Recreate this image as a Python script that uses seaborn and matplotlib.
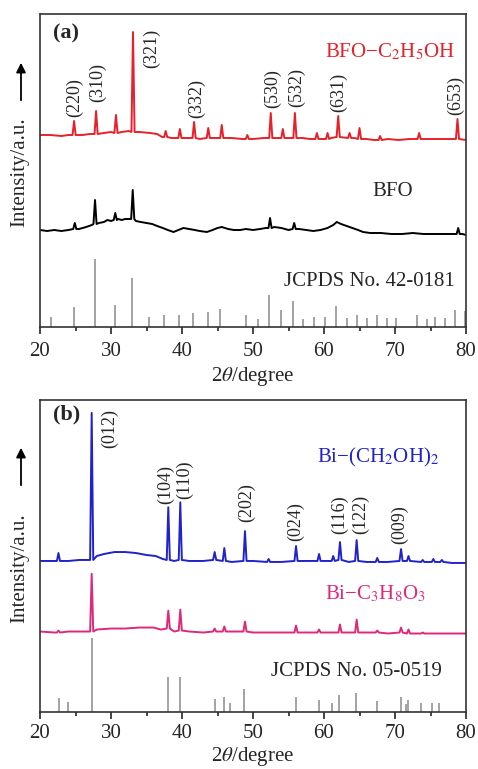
import numpy as np
import pandas as pd
import seaborn as sns
import matplotlib
matplotlib.use("Agg")
from matplotlib import pyplot as plt

# ---------------- data ----------------
# panel (a) ----------------------------------------------------
# red trace BFO-C2H5OH : baseline points and peaks (pos, top, local base)
red_base_x = [20, 21.5, 23, 24, 26, 27, 29, 30, 31.5, 32.5, 34, 35.5, 36.5, 37.2, 38.5, 40.5, 42.5,
              44.5, 47, 48.5, 50, 51.5, 53.2, 57, 58, 61, 64.3, 66, 67, 69, 70.5, 72, 75, 77, 80]
red_base_y = [192, 192, 191, 192, 192, 193, 194, 195, 195, 196, 195, 194, 193, 190, 189, 189, 188,
              189, 189, 188, 188, 189, 189, 189, 188, 189, 189, 188, 187, 188, 187, 188, 188, 188, 187]
red_pk_pos = [24.8, 27.9, 30.7, 33.1, 37.7, 39.7, 41.7, 43.7, 45.6, 49.2, 52.5, 54.2, 55.9,
              59.0, 60.5, 62.0, 63.6, 65.0, 67.9, 73.4, 78.8]
red_pk_top = [206, 216, 212, 295, 196, 198, 205, 199, 202, 192, 214, 198, 214,
              194, 194, 211, 194, 199, 191, 194, 208]
red_pk_base = [192, 193, 194, 195, 190, 189, 189, 189, 189, 188, 189, 189, 189,
               188, 188, 190, 189, 188, 187, 188, 188]

# black trace BFO
blk_base_x = [20, 21, 22, 23, 24, 25.5, 26.5, 27.3, 28.3, 29, 29.5, 30, 31, 31.5, 32, 32.7, 33.5, 34.2,
              35, 35.8, 36.5, 37.3, 38, 38.8, 39.5, 40.2, 41, 41.8, 42.5, 43.5, 44.3, 45, 45.6, 46.5,
              47.3, 48.2, 49, 50, 51, 51.8, 53, 54, 55, 56.5, 57.5, 58.5, 59.5, 60.5, 61.3, 61.8, 62.4,
              63.2, 64, 64.8, 65.5, 66.5, 68, 69.5, 71, 72.5, 74, 75.5, 77, 78.3, 79.5, 80]
blk_base_y = [97, 96, 97, 96, 97, 98, 100, 102, 104, 105, 107, 106, 108, 107, 108, 108, 106, 105,
              104, 103, 101, 99, 97, 95, 97, 99, 98, 97, 96, 95, 97, 99, 100, 98,
              97, 97, 98, 97, 98, 99, 100, 99, 97, 98, 97, 96, 97, 99, 102, 105, 103,
              101, 99, 97, 95, 94, 94, 93, 93, 94, 93, 93, 93, 93, 93, 92]
blk_pk_pos = [24.9, 27.75, 30.6, 33.06, 52.4, 55.8, 78.9]
blk_pk_top = [104, 127, 114, 137, 109, 104, 99]
blk_pk_base = [98, 103, 107, 108, 99, 98, 93]

# JCPDS No. 42-0181 sticks
ref_a_pos = [21.5, 24.8, 27.8, 30.5, 33.0, 35.3, 37.5, 39.6, 41.6, 43.6, 45.4, 49.0, 50.7, 52.3, 53.9,
             55.6, 57.1, 58.6, 60.2, 61.7, 63.2, 64.6, 66.0, 67.5, 68.9, 70.2, 73.1, 74.5, 75.7, 77.0,
             78.4, 79.8]
ref_a_int = [10, 20, 68, 22, 49, 10, 12, 12, 14, 15, 18, 12, 8, 32, 17,
             26, 8, 10, 10, 21, 9, 12, 9, 12, 9, 9, 12, 8, 10, 9,
             17, 16]

hkl_a = ["(220)", "(310)", "(321)", "(332)", "(530)", "(532)", "(631)", "(653)"]
hkl_a_x = [24.9, 28.1, 35.7, 42.0, 52.8, 56.1, 62.0, 78.5]
hkl_a_y = [210, 225, 259, 209, 219, 220, 215, 212]

# panel (b) ----------------------------------------------------
blu_base_x = [20, 21.5, 24, 25.5, 26.8, 28, 29, 30.5, 32, 33.5, 35, 36.3, 37.3, 38.9, 41, 43, 47, 50,
              54, 58, 63.5, 66, 69, 74.5, 78, 80]
blu_base_y = [152, 152, 152, 153, 153, 157, 159, 161, 161, 160, 158, 157, 154, 152, 152, 152, 151, 152,
              151, 152, 151, 151, 151, 151, 150, 150]
blu_pk_pos = [22.6, 27.28, 38.07, 39.76, 44.6, 45.96, 48.87, 52.2, 56.06, 59.3, 61.3, 62.25, 64.6,
              67.5, 70.85, 71.9, 73.9, 75.4, 76.6]
blu_pk_top = [160, 301, 206, 211, 161, 165, 182, 154, 167, 159, 157, 171, 173,
              155, 164, 157, 153, 154, 153]
blu_pk_base = [152, 153, 153, 153, 153, 152, 152, 151, 152, 152, 152, 153, 152,
               151, 152, 152, 151, 151, 151]

pnk_base_x = [20, 22, 24, 26, 28, 30, 32, 34, 36, 37, 38.9, 41, 43, 47, 50, 53, 55, 58, 61, 66, 69, 75, 80]
pnk_base_y = [81, 80, 81, 81, 83, 84, 84, 85, 85, 83, 81, 81, 80, 81, 80, 80, 80, 80, 80, 80, 79, 79, 79]
pnk_pk_pos = [22.6, 27.28, 38.07, 39.76, 44.6, 45.96, 48.87, 56.06, 59.3, 62.25, 64.6, 67.5, 70.85, 71.9,
              73.9]
pnk_pk_top = [82, 139, 102, 103, 84, 86, 91, 87, 83, 88, 93, 82, 85, 83, 80]
pnk_pk_base = [80, 81, 84, 82, 81, 81, 81, 80, 80, 80, 80, 80, 80, 79, 79]

# JCPDS No. 05-0519 sticks
ref_b_pos = [22.68, 23.9, 27.28, 37.98, 39.72, 44.65, 45.96, 46.76, 48.73, 56.06, 59.34, 61.08, 62.16,
             64.51, 67.4, 70.8, 71.5, 71.87, 73.6, 75.2, 76.2]
ref_b_int = [14, 10, 74, 35, 35, 13, 15, 9, 23, 15, 12, 9, 17, 19, 11, 15, 8, 12, 9, 9, 9]

hkl_b = ["(012)", "(104)", "(110)", "(202)", "(024)", "(116)", "(122)", "(009)"]
hkl_b_x = [29.86, 37.7, 40.4, 49.1, 56.06, 62.25, 65.1, 70.7]
hkl_b_y = [266, 209, 214, 191, 172, 179, 179, 169]

# ---------------- helpers ----------------
PEAK_HW = 0.22  # half width of a drawn peak foot, degrees


def trace(base_x, base_y, pk_pos, pk_top, pk_base):
    xs = list(base_x)
    ys = list(base_y)
    for p, t, b in zip(pk_pos, pk_top, pk_base):
        xs += [p - PEAK_HW, p, p + PEAK_HW]
        ys += [b, t, b]
    df = pd.DataFrame({"x": xs, "y": ys}).sort_values("x", kind="mergesort")
    return df


RED = "#e8202a"
BLUE = "#2222cc"
PINK = "#e0287a"
GREY = "#8a8a8a"

sns.set_style("ticks")
plt.rcParams["font.family"] = ["Liberation Serif", "DejaVu Serif"]
plt.rcParams["mathtext.fontset"] = "stix"
plt.rcParams["axes.edgecolor"] = "#333333"
plt.rcParams["axes.linewidth"] = 1.2

W, H = 478, 769
fig = plt.figure(figsize=(W / 100, H / 100), dpi=100)
ax_a = fig.add_axes([40 / W, 1 - 327 / H, 426 / W, 313 / H])
ax_b = fig.add_axes([40 / W, 1 - 712 / H, 426 / W, 312 / H])

FS = 15
LW = 1.4

# ---- panel (a)
sns.lineplot(data=trace(red_base_x, red_base_y, red_pk_pos, red_pk_top, red_pk_base),
             x="x", y="y", estimator=None, sort=False, color=RED, lw=LW, ax=ax_a)
sns.lineplot(data=trace(blk_base_x, blk_base_y, blk_pk_pos, blk_pk_top, blk_pk_base),
             x="x", y="y", estimator=None, sort=False, color="black", lw=LW, ax=ax_a)
ax_a.vlines(ref_a_pos, 0, ref_a_int, color=GREY, lw=1.1)
ax_a.set_ylim(0, 313)
for t, x, y in zip(hkl_a, hkl_a_x, hkl_a_y):
    ax_a.text(x, y, t, rotation=90, ha="center", va="bottom", fontsize=13)
ax_a.text(21.8, 294, "(a)", fontsize=16, fontweight="bold", va="center")
ax_a.text(78.45, 275, "BFO\u2212C$_2$H$_5$OH", color=RED, fontsize=FS, ha="right", va="center")
ax_a.text(69.7, 135, "BFO", fontsize=FS, ha="center", va="center")
ax_a.text(78.45, 46, "JCPDS No. 42-0181", fontsize=FS, ha="right", va="center")

# ---- panel (b)
sns.lineplot(data=trace(blu_base_x, blu_base_y, blu_pk_pos, blu_pk_top, blu_pk_base),
             x="x", y="y", estimator=None, sort=False, color=BLUE, lw=LW, ax=ax_b)
sns.lineplot(data=trace(pnk_base_x, pnk_base_y, pnk_pk_pos, pnk_pk_top, pnk_pk_base),
             x="x", y="y", estimator=None, sort=False, color=PINK, lw=LW, ax=ax_b)
ax_b.vlines(ref_b_pos, 0, ref_b_int, color=GREY, lw=1.1)
ax_b.set_ylim(0, 314)
for t, x, y in zip(hkl_b, hkl_b_x, hkl_b_y):
    ax_b.text(x, y, t, rotation=90, ha="center", va="bottom", fontsize=13)
ax_b.text(21.8, 299, "(b)", fontsize=16, fontweight="bold", va="center")
ax_b.text(76.2, 256, "Bi\u2212(CH$_2$OH)$_2$", color=BLUE, fontsize=FS, ha="right", va="center")
ax_b.text(74.4, 119, "Bi\u2212C$_3$H$_8$O$_3$", color=PINK, fontsize=FS, ha="right", va="center")
ax_b.text(76.6, 41, "JCPDS No. 05-0519", fontsize=FS, ha="right", va="center")

for ax, tp, lp in ((ax_a, 6, 3), (ax_b, 4, 1)):
    ax.set_xlim(20, 80)
    ax.set_xticks(range(20, 81, 10))
    ax.set_xticks(range(25, 80, 10), minor=True)
    ax.set_yticks([])
    ax.tick_params(axis="x", which="major", direction="out", length=5, width=1.2,
                   labelsize=FS, pad=tp)
    ax.tick_params(axis="x", which="minor", direction="out", length=3, width=1.2)
    ax.set_xlabel(r"2$\it{\theta}$/degree", fontsize=FS, labelpad=lp)
    ax.set_ylabel("")
    for s in ax.spines.values():
        s.set_visible(True)

# y labels with arrows
for lab_c, head, tail in [(172, 60, 103), (568, 445, 488)]:
    fig.text(20 / W, 1 - lab_c / H, "Intensity/a.u.", rotation=90, ha="center", va="center",
             fontsize=FS)
    ax_a.annotate("", xy=(21 / W, 1 - head / H), xytext=(21 / W, 1 - tail / H),
                  xycoords="figure fraction", textcoords="figure fraction",
                  arrowprops=dict(arrowstyle="-|>", color="black", lw=1.3, mutation_scale=14))

fig.savefig("out.png", dpi=100)
